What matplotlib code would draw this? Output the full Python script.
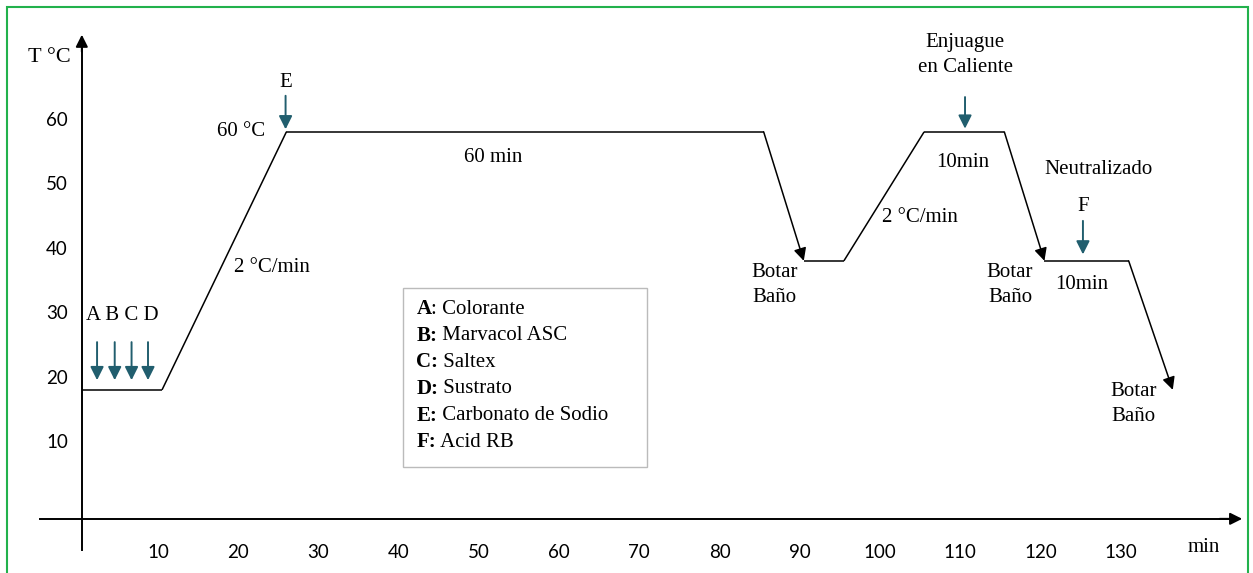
import matplotlib.pyplot as plt
from matplotlib.patches import Rectangle

# ── Data ─────────────────────────────────────────────────────────────────
# temperature profile (min, °C)
prof_t = [0.5, 10.5, 26, 85.5, 90.5, 95.5, 105.5, 115.5, 120.5, 131, 136.5]
prof_T = [18, 18, 58, 58, 38, 38, 58, 58, 38, 38, 18]
# segments that end in an arrow head (index of start point)
drop_idx = [3, 7, 9]

x_ticks = [10, 20, 30, 40, 50, 60, 70, 80, 90, 100, 110, 120, 130]
y_ticks = [10, 20, 30, 40, 50, 60]

# additions (teal arrows): x, y_start, y_end
add_t = [2.4, 4.6, 6.7, 8.75, 25.9, 110.6, 125.3]
add_y0 = [25.4, 25.4, 25.4, 25.4, 63.6, 63.4, 44.2]
add_y1 = [19.5, 19.5, 19.5, 19.5, 58.4, 58.5, 39.0]

legend_keys = ["A", "B:", "C:", "D:", "E:", "F:"]
legend_vals = [": Colorante", " Marvacol ASC", " Saltex", " Sustrato",
               " Carbonato de Sodio", " Acid RB"]

# ── Colours / fonts ──────────────────────────────────────────────────────
TEAL = "#215E6E"
GREEN = "#22B14C"
SERIF = "Liberation Serif"
SANS = "Lato"

fig = plt.figure(figsize=(12.53, 5.73), dpi=100)
ax = fig.add_axes([0, 0, 1, 1])
# pixel mapping: x_px = 77.8 + 8.02 t ; y_px = 506 - 6.45 T
ax.set_xlim(-9.7, 146.5)
ax.set_ylim(-10.4, 78.45)
for s in ["top", "right"]:
    ax.spines[s].set_visible(False)
ax.spines["left"].set_position(("data", 0.5))
ax.spines["bottom"].set_position(("data", -2))
ax.spines["left"].set_bounds(-6.8, 72)
ax.spines["bottom"].set_bounds(-4.75, 144)
for s in ["left", "bottom"]:
    ax.spines[s].set_linewidth(1.4)
ax.set_xticks(x_ticks)
ax.set_yticks(y_ticks)
ax.tick_params(axis="x", length=0, pad=18, labelsize=13.5)
ax.tick_params(axis="y", length=0, pad=10, labelsize=13.5)
for lab in ax.get_xticklabels() + ax.get_yticklabels():
    lab.set_fontfamily(SANS)
ax.patch.set_alpha(0)

# axis arrow heads
ax.annotate("", xy=(0.5, 73.5), xytext=(0.5, 70),
            arrowprops=dict(arrowstyle="-|>", color="black", lw=1.4,
                            mutation_scale=18))
ax.annotate("", xy=(145.5, -2), xytext=(142, -2),
            arrowprops=dict(arrowstyle="-|>", color="black", lw=1.4,
                            mutation_scale=18))

# temperature profile
for i in range(len(prof_t) - 1):
    if i in drop_idx:
        ax.annotate("", xy=(prof_t[i + 1], prof_T[i + 1]),
                    xytext=(prof_t[i], prof_T[i]),
                    arrowprops=dict(arrowstyle="-|>", color="black", lw=1.1,
                                    mutation_scale=19, shrinkA=0, shrinkB=0))
    else:
        ax.plot(prof_t[i:i + 2], prof_T[i:i + 2], color="black", lw=1.1,
                solid_capstyle="butt")

# additions
for x, y0, y1 in zip(add_t, add_y0, add_y1):
    ax.annotate("", xy=(x, y1), xytext=(x, y0),
                arrowprops=dict(arrowstyle="-|>", color=TEAL, lw=1.4,
                                mutation_scale=20, shrinkA=0, shrinkB=0))

# ── Labels ───────────────────────────────────────────────────────────────
def label(x, y, s, ha="center", size=15):
    ax.text(x, y, s, ha=ha, va="center", fontsize=size, family=SERIF,
            linespacing=1.4)

label(-3.6, 69.6, "T °C", size=16)
label(5.6, 29.5, "A B C D")
label(25.9, 65.7, "E")
label(23.3, 58.1, "60 °C", ha="right")
label(51.8, 54.0, "60 min")
label(24.2, 36.9, "2 °C/min")
label(86.9, 34.3, "Botar\nBaño")
label(105.0, 44.8, "2 °C/min")
label(110.6, 69.9, "Enjuague\nen Caliente")
label(110.3, 53.2, "10min")
label(127.3, 52.1, "Neutralizado")
label(125.3, 46.5, "F")
label(116.2, 34.3, "Botar\nBaño")
label(125.2, 34.4, "10min")
label(131.6, 15.8, "Botar\nBaño")
label(140.4, -6.5, "min")

# legend box
ax.add_patch(Rectangle((40.6, 6.0), 30.3, 27.8, facecolor="white",
                       edgecolor="#BBBBBB", lw=1.0))
y_line = 30.5
for k, v in zip(legend_keys, legend_vals):
    t = ax.text(42.2, y_line, k, ha="left", va="center", fontsize=15,
                family=SERIF, weight="bold")
    ax.annotate(v, xy=(1, 0.5), xycoords=t, ha="left", va="center",
                fontsize=15, family=SERIF)
    y_line -= 4.12

# green frame
fig.add_artist(Rectangle((7 / 1253, -0.05), 1241 / 1253, 1 - 7 / 573 + 0.05,
                         transform=fig.transFigure, fill=False,
                         edgecolor=GREEN, lw=1.5))

fig.savefig("out.png", dpi=100, facecolor="white")
